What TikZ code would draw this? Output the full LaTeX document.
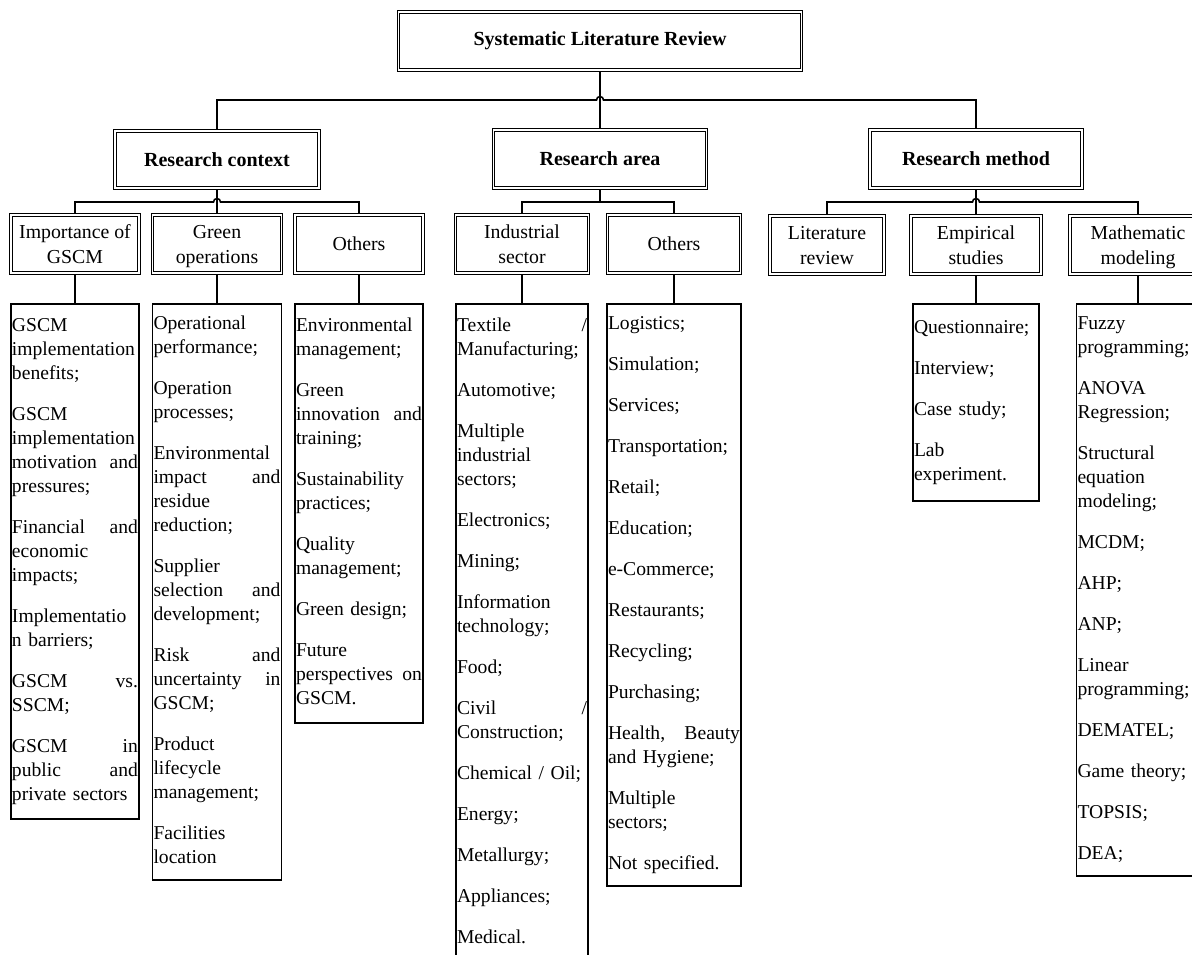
\documentclass[tikz,border=0pt]{standalone}
\usepackage{fontspec}
\setmainfont{Liberation Serif}
\usetikzlibrary{calc}

\newcommand{\fillsp}{\nobreak\hfill}
\newcommand{\nextitem}{\\[17pt]}
\hyphenpenalty=10000

\tikzset{
  dbox/.style={draw, double, double distance=1.1pt, line width=1.3pt, inner sep=0pt, outer sep=1.85pt},
  mainbox/.style={dbox, font=\bfseries\fontsize{20}{24}\selectfont},
  subbox/.style={dbox, align=center, minimum height=58pt, text height=43pt, text depth=5pt, font=\fontsize{19.8}{25}\selectfont},
  onebox/.style={subbox, text height=13pt, text depth=0pt},
  listbox/.style={draw, line width=1.5pt, anchor=north, inner xsep=1pt, inner ysep=11pt, align=left, font=\fontsize{19.6}{24}\selectfont},
  conn/.style={line width=1.6pt},
}

\begin{document}
\begin{tikzpicture}[x=1pt,y=1pt]
\useasboundingbox (0,0) rectangle (1192,-955);
\clip (0,0) rectangle (1192,-955);

\node[mainbox, minimum width=403pt, minimum height=58pt] (slr) at (600,-41) {Systematic Literature Review};

\node[mainbox, minimum width=204pt, minimum height=57pt] (rc) at (217,-159.5) {Research context};
\node[mainbox, minimum width=213pt, minimum height=58pt] (ra) at (600,-159) {Research area};
\node[mainbox, minimum width=212pt, minimum height=58pt] (rm) at (976,-159) {Research method};

\node[subbox, minimum width=128pt] (imp) at (75,-244) {Importance of\\GSCM};
\node[subbox, minimum width=129pt] (gop) at (217,-244) {Green\\operations};
\node[onebox, minimum width=128pt] (oth1) at (359,-244) {Others};
\node[subbox, minimum width=133pt] (ind) at (522,-244) {Industrial\\sector};
\node[onebox, minimum width=133pt] (oth2) at (674,-244) {Others};
\node[subbox, minimum width=114pt] (lit) at (827,-245) {Literature\\review};
\node[subbox, minimum width=130pt] (emp) at (976,-245) {Empirical\\studies};
\node[subbox, minimum width=136pt] (mat) at (1138,-245) {Mathematic\\modeling};

\node[listbox, text width=126pt] (l1) at (75,-303) {\strut GSCM\\implementation\\benefits;\nextitem
GSCM\\implementation\\motivation\fillsp and\\pressures;\nextitem
Financial\fillsp and\\economic\\impacts;\nextitem
Implementatio\\n barriers;\nextitem
GSCM\fillsp vs.\\SSCM;\nextitem
GSCM\fillsp in\\public\fillsp and\\private sectors\strut};

\node[listbox, text width=127pt, inner ysep=9pt] (l2) at (217,-303) {\strut Operational\\performance;\nextitem
Operation\\processes;\nextitem
Environmental\\impact\fillsp and\\residue\\reduction;\nextitem
Supplier\\selection\fillsp and\\development;\nextitem
Risk\fillsp and\\uncertainty\fillsp in\\GSCM;\nextitem
Product\\lifecycle\\management;\nextitem
Facilities\\location\strut};

\node[listbox, text width=126pt] (l3) at (359,-303) {\strut Environmental\\management;\nextitem
Green\\innovation\fillsp and\\training;\nextitem
Sustainability\\practices;\nextitem
Quality\\management;\nextitem
Green design;\nextitem
Future\\perspectives\fillsp on\\GSCM.\strut};

\node[listbox, text width=130pt] (l4) at (522,-303) {\strut Textile\fillsp /\\Manufacturing;\nextitem
Automotive;\nextitem
Multiple\\industrial\\sectors;\nextitem
Electronics;\nextitem
Mining;\nextitem
Information\\technology;\nextitem
Food;\nextitem
Civil\fillsp /\\Construction;\nextitem
Chemical / Oil;\nextitem
Energy;\nextitem
Metallurgy;\nextitem
Appliances;\nextitem
Medical.\strut};

\node[listbox, text width=132pt, inner ysep=9pt] (l5) at (674,-303) {\strut Logistics;\nextitem
Simulation;\nextitem
Services;\nextitem
Transportation;\nextitem
Retail;\nextitem
Education;\nextitem
e-Commerce;\nextitem
Restaurants;\nextitem
Recycling;\nextitem
Purchasing;\nextitem
Health,\fillsp Beauty\\and Hygiene;\nextitem
Multiple\\sectors;\nextitem
Not specified.\strut};

\node[listbox, text width=124pt, inner ysep=13pt] (l6) at (976,-303) {\strut Questionnaire;\nextitem
Interview;\nextitem
Case study;\nextitem
Lab\\experiment.\strut};

\node[listbox, text width=121pt, inner ysep=9pt] (l7) at (1138,-303) {\strut Fuzzy\\programming;\nextitem
ANOVA\\Regression;\nextitem
Structural\\equation\\modeling;\nextitem
MCDM;\nextitem
AHP;\nextitem
ANP;\nextitem
Linear\\programming;\nextitem
DEMATEL;\nextitem
Game theory;\nextitem
TOPSIS;\nextitem
DEA;\strut};

\coordinate (h1) at (0,-100);
\coordinate (h2) at (0,-202);

\draw[conn] (slr) -- (ra);
\draw[conn] (rc.north) |- ($(slr.south |- h1)+(-3.5,0)$) arc[start angle=180, end angle=0, radius=3.5] -- (rm.north |- h1) -- (rm.north);

\draw[conn] (rc) -- (gop);
\draw[conn] (imp.north) |- ($(rc.south |- h2)+(-3.5,0)$) arc[start angle=180, end angle=0, radius=3.5] -- (oth1.north |- h2) -- (oth1.north);

\draw[conn] (ra.south) -- (ra.south |- h2);
\draw[conn] (ind.north) |- (oth2.north |- h2) -- (oth2.north);

\draw[conn] (rm) -- (emp);
\draw[conn] (lit.north) |- ($(rm.south |- h2)+(-3.5,0)$) arc[start angle=180, end angle=0, radius=3.5] -- (mat.north |- h2) -- (mat.north);

\draw[conn] (imp) -- (l1);
\draw[conn] (gop) -- (l2);
\draw[conn] (oth1) -- (l3);
\draw[conn] (ind) -- (l4);
\draw[conn] (oth2) -- (l5);
\draw[conn] (emp) -- (l6);
\draw[conn] (mat) -- (l7);
\end{tikzpicture}
\end{document}
